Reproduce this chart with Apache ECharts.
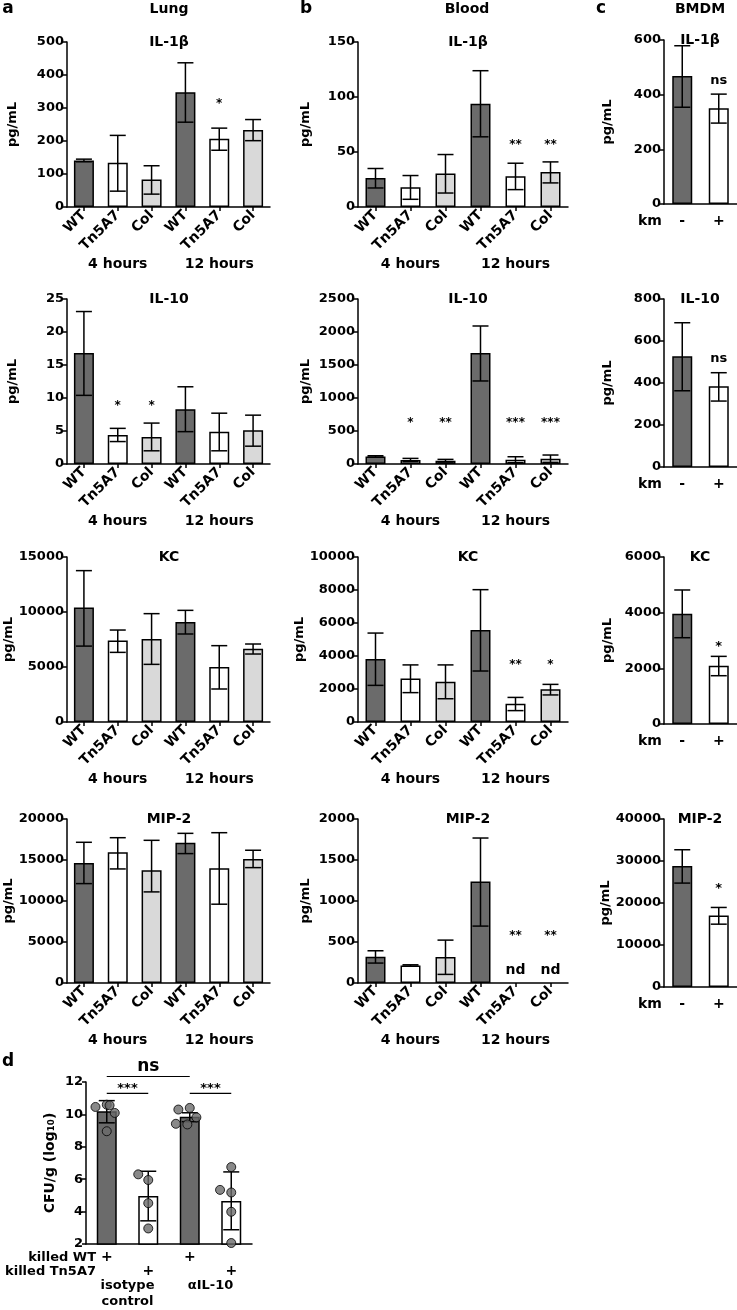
<!DOCTYPE html>
<html>
<head>
<meta charset="utf-8">
<script src="https://cdn.jsdelivr.net/npm/echarts@6.0.0/dist/echarts.min.js"></script>
<style>
  html, body { margin: 0; padding: 0; background: #fff; }
  #chart { width: 737px; height: 1310px; }
</style>
</head>
<body>
<div id="chart"></div>
<script>
// categories
var timeCats = ['WT', 'Tn5A7', 'Col', 'WT', 'Tn5A7', 'Col'];
var timeLabels = ['4 hours', '12 hours'];
var kmCats = ['-', '+'];
var dCats = ['WT isotype', 'Tn5A7 isotype', 'WT anti', 'Tn5A7 anti'];
var dKilledWT = ['+', ' ', '+', ' '];
var dKilledTn = [' ', '+', ' ', '+'];
var dTreatLabels = ['isotype\ncontrol', 'αIL-10'];

// a - Lung
var lungIl1bTicks = [0, 100, 200, 300, 400, 500];
var lungIl1bMean = [141, 134, 83, 348, 207, 233];
var lungIl1bLow = [137, 48, 39, 257, 172, 201];
var lungIl1bHigh = [145, 217, 125, 437, 239, 265];
var lungIl1bSig = ['', '', '', '', '*', ''];
var lungIl1bSigAt = 323;

var lungIl10Ticks = [0, 5, 10, 15, 20, 25];
var lungIl10Mean = [16.8, 4.4, 4.1, 8.3, 4.9, 5.1];
var lungIl10Low = [10.4, 3.4, 2.0, 4.9, 2.0, 2.7];
var lungIl10High = [23.1, 5.4, 6.2, 11.7, 7.7, 7.4];
var lungIl10Sig = ['', '*', '*', '', '', ''];
var lungIl10SigAt = 9.2;

var lungKcTicks = [0, 5000, 10000, 15000];
var lungKcMean = [10400, 7400, 7550, 9100, 5000, 6650];
var lungKcLow = [6900, 6330, 5240, 8000, 3000, 6180];
var lungKcHigh = [13760, 8360, 9850, 10150, 6940, 7090];

var lungMip2Ticks = [0, 5000, 10000, 15000, 20000];
var lungMip2Mean = [14640, 15940, 13750, 17110, 14000, 15130];
var lungMip2Low = [12120, 13910, 11110, 15780, 9610, 14070];
var lungMip2High = [17160, 17720, 17400, 18250, 18330, 16190];

// b - Blood
var bloodIl1bTicks = [0, 50, 100, 150];
var bloodIl1bMean = [26.4, 17.9, 30.4, 93.8, 28, 31.9];
var bloodIl1bLow = [17.3, 7, 12.7, 63.8, 15.8, 21.9];
var bloodIl1bHigh = [35, 28.6, 47.7, 123.9, 39.8, 41];
var bloodIl1bSig = ['', '', '', '', '**', '**'];
var bloodIl1bSigAt = 59;

var bloodIl10Ticks = [0, 500, 1000, 1500, 2000, 2500];
var bloodIl10Mean = [115, 60, 50, 1682, 65, 80];
var bloodIl10Low = [105, 35, 30, 1258, 20, 24];
var bloodIl10High = [125, 85, 70, 2091, 110, 136];
var bloodIl10Sig = ['', '*', '**', '', '***', '***'];
var bloodIl10SigAt = 672;

var bloodKcTicks = [0, 2000, 4000, 6000, 8000, 10000];
var bloodKcMean = [3820, 2640, 2440, 5580, 1110, 1980];
var bloodKcLow = [2220, 1780, 1410, 3090, 690, 1640];
var bloodKcHigh = [5390, 3460, 3460, 8020, 1490, 2280];
var bloodKcSig = ['', '', '', '', '**', '*'];
var bloodKcSigAt = 3670;

var bloodMip2Ticks = [0, 500, 1000, 1500, 2000];
var bloodMip2Mean = [320, 214, 316, 1237, null, null];
var bloodMip2Low = [243, 205, 105, 694, null, null];
var bloodMip2High = [393, 222, 523, 1768, null, null];
var bloodMip2Sig = ['', '', '', '', '**', '**'];
var bloodMip2SigAt = 616;
var bloodMip2Note = ['', '', '', '', 'nd', 'nd'];
var bloodMip2NoteAt = 153;

// c - BMDM
var bmdmIl1bTicks = [0, 200, 400, 600];
var bmdmIl1bMean = [468, 350];
var bmdmIl1bLow = [354, 296];
var bmdmIl1bHigh = [579, 402];
var bmdmIl1bSig = ['', 'ns'];
var bmdmIl1bSigAt = 453;

var bmdmIl10Ticks = [0, 200, 400, 600, 800];
var bmdmIl10Mean = [527, 384];
var bmdmIl10Low = [363, 314];
var bmdmIl10High = [687, 449];
var bmdmIl10Sig = ['', 'ns'];
var bmdmIl10SigAt = 518;

var bmdmKcTicks = [0, 2000, 4000, 6000];
var bmdmKcMean = [3963, 2095];
var bmdmKcLow = [3100, 1735];
var bmdmKcHigh = [4815, 2430];
var bmdmKcSig = ['', '*'];
var bmdmKcSigAt = 2885;

var bmdmMip2Ticks = [0, 10000, 20000, 30000, 40000];
var bmdmMip2Mean = [28790, 17030];
var bmdmMip2Low = [24740, 14960];
var bmdmMip2High = [32680, 18940];
var bmdmMip2Sig = ['', '*'];
var bmdmMip2SigAt = 24190;

// d - CFU
var dTicks = [2, 4, 6, 8, 10, 12];
var dMean = [10.19, 4.97, 9.85, 4.66];
var dLow = [9.48, 3.43, 9.55, 2.88];
var dHigh = [10.85, 6.49, 10.1, 6.45];
var dIsoWtDots = [10.6, 10.46, 10.09, 10.56, 8.96];
var dIsoTnDots = [5.95, 6.3, 4.52, 2.96];
var dAntiWtDots = [10.4, 10.3, 9.82, 9.38, 9.42];
var dAntiTnDots = [6.75, 5.18, 5.34, 3.99, 2.06];
var dBrackets = [[0, 1, '***'], [2, 3, '***'], [0, 2, 'ns']];
var dBracketAt = [11.3, 11.3, 12.34];

// styles
var FONT = 'DejaVu Sans';
var DARK = '#6b6b6b', LIGHT = '#d9d9d9', WHITE = '#ffffff';
var timeColors = [DARK, WHITE, LIGHT, DARK, WHITE, LIGHT];
var kmColors = [DARK, WHITE];
var dColors = [DARK, WHITE, DARK, WHITE];

var grids = [], xAxes = [], yAxes = [], series = [], graphics = [];
var black = { color: '#000', width: 1.5 };

function txt(x, y, s, size, align) {
    graphics.push({
        type: 'text', x: x, y: y, silent: true,
        style: { text: s, fontFamily: FONT, fontWeight: 'bold', fontSize: size, fill: '#000',
                 align: align || 'center', verticalAlign: 'middle' }
    });
}

function renderErr(params, api) {
    var top = api.coord([api.value(0), api.value(2)]);
    var bot = api.coord([api.value(0), api.value(1)]);
    var half = 8;
    var st = { stroke: '#000', lineWidth: 1.5 };
    return { type: 'group', children: [
        { type: 'line', shape: { x1: top[0], y1: top[1], x2: bot[0], y2: bot[1] }, style: st },
        { type: 'line', shape: { x1: top[0] - half, y1: top[1], x2: top[0] + half, y2: top[1] }, style: st },
        { type: 'line', shape: { x1: bot[0] - half, y1: bot[1], x2: bot[0] + half, y2: bot[1] }, style: st }
    ] };
}

function textSeries(xi, yi, labels, at, size) {
    var data = [], shown = [];
    labels.forEach(function (s, i) {
        if (s) { data.push([i, at]); shown.push(s); }
    });
    return {
        type: 'custom', xAxisIndex: xi, yAxisIndex: yi, silent: true, clip: false, z: 5,
        data: data,
        renderItem: function (params, api) {
            var p = api.coord([api.value(0), api.value(1)]);
            var s = shown[params.dataIndex];
            return { type: 'text', x: p[0], y: p[1] + (s.indexOf('*') >= 0 ? size * 0.25 : 0),
                style: { text: s, fontFamily: FONT, fontWeight: 'bold', fontSize: size, fill: '#000',
                         align: 'center', verticalAlign: 'middle' } };
        }
    };
}

function addPanel(p) {
    var gi = grids.length, b = p.box;
    grids.push({ left: b[0], top: b[1], width: b[2], height: b[3] });

    var xi = xAxes.length;
    xAxes.push({
        type: 'category', gridIndex: gi, data: p.cats,
        axisLine: { lineStyle: black },
        axisTick: { show: !!p.rotate, alignWithLabel: true, length: 4, lineStyle: black },
        axisLabel: { interval: 0, rotate: p.rotate ? 45 : 0, margin: p.labelMargin,
                     color: '#000', fontFamily: FONT, fontWeight: 'bold', fontSize: p.labelSize || 14,
                     lineHeight: 14, formatter: p.labelFormatter }
    });
    if (p.under) {
        xAxes.push({
            type: 'category', gridIndex: gi, data: p.under, position: 'bottom', offset: p.underOffset,
            axisLine: { show: false }, axisTick: { show: false },
            axisLabel: { interval: 0, margin: 8, color: '#000', fontFamily: FONT, fontWeight: 'bold',
                         fontSize: p.underSize || 14, lineHeight: 16 }
        });
    }

    var yi = yAxes.length, t = p.ticks;
    yAxes.push({
        type: 'value', gridIndex: gi, min: t[0], max: t[t.length - 1], interval: t[1] - t[0],
        name: p.yName, nameLocation: 'middle', nameGap: p.nameGap,
        nameTextStyle: { color: '#000', fontFamily: FONT, fontWeight: 'bold', fontSize: p.nameSize || 13 },
        axisLine: { show: true, lineStyle: black },
        axisTick: { show: true, length: 4, lineStyle: black },
        splitLine: { show: false },
        axisLabel: { margin: 3, color: '#000', fontFamily: FONT, fontWeight: 'bold', fontSize: 13,
                     formatter: function (v) { return String(v); } }
    });

    series.push({
        type: 'bar', xAxisIndex: xi, yAxisIndex: yi, barWidth: 20, silent: true,
        itemStyle: { borderColor: '#000', borderWidth: 1.5 },
        data: p.mean.map(function (v, i) {
            return v == null ? '-' : { value: v, itemStyle: { color: p.colors[i] } };
        })
    });

    var err = [];
    p.mean.forEach(function (v, i) {
        if (p.low[i] != null) err.push([i, p.low[i], p.high[i]]);
    });
    series.push({
        type: 'custom', xAxisIndex: xi, yAxisIndex: yi, silent: true, z: 3, clip: false,
        encode: { x: 0, y: [1, 2] }, data: err, renderItem: renderErr
    });

    if (p.sig) series.push(textSeries(xi, yi, p.sig, p.sigAt, p.sigSize || 12));
    if (p.note) series.push(textSeries(xi, yi, p.note, p.noteAt, 14));

    if (p.title) txt(p.titleX, b[1], p.title, 14);
    return { xi: xi, yi: yi };
}

// layout: column x-ranges and row y-ranges
var colA = [67, 203], colB = [358, 210], colC = [664, 73];
var rowsAB = [[42, 165], [299, 165], [557, 165], [819, 164]];
var rowsC = [[40, 164], [299, 168], [557, 167], [819, 168]];
var titleX = [169, 468, 700];

var lungRows = [
    ['IL-1β', lungIl1bTicks, lungIl1bMean, lungIl1bLow, lungIl1bHigh, lungIl1bSig, lungIl1bSigAt],
    ['IL-10', lungIl10Ticks, lungIl10Mean, lungIl10Low, lungIl10High, lungIl10Sig, lungIl10SigAt],
    ['KC', lungKcTicks, lungKcMean, lungKcLow, lungKcHigh, null, null],
    ['MIP-2', lungMip2Ticks, lungMip2Mean, lungMip2Low, lungMip2High, null, null]
];
var bloodRows = [
    ['IL-1β', bloodIl1bTicks, bloodIl1bMean, bloodIl1bLow, bloodIl1bHigh, bloodIl1bSig, bloodIl1bSigAt],
    ['IL-10', bloodIl10Ticks, bloodIl10Mean, bloodIl10Low, bloodIl10High, bloodIl10Sig, bloodIl10SigAt],
    ['KC', bloodKcTicks, bloodKcMean, bloodKcLow, bloodKcHigh, bloodKcSig, bloodKcSigAt],
    ['MIP-2', bloodMip2Ticks, bloodMip2Mean, bloodMip2Low, bloodMip2High, bloodMip2Sig, bloodMip2SigAt]
];
var bmdmRows = [
    ['IL-1β', bmdmIl1bTicks, bmdmIl1bMean, bmdmIl1bLow, bmdmIl1bHigh, bmdmIl1bSig, bmdmIl1bSigAt],
    ['IL-10', bmdmIl10Ticks, bmdmIl10Mean, bmdmIl10Low, bmdmIl10High, bmdmIl10Sig, bmdmIl10SigAt],
    ['KC', bmdmKcTicks, bmdmKcMean, bmdmKcLow, bmdmKcHigh, bmdmKcSig, bmdmKcSigAt],
    ['MIP-2', bmdmMip2Ticks, bmdmMip2Mean, bmdmMip2Low, bmdmMip2High, bmdmMip2Sig, bmdmMip2SigAt]
];

[[lungRows, colA, 0, 48], [bloodRows, colB, 1, 46]].forEach(function (c) {
    c[0].forEach(function (r, k) {
        addPanel({
            box: [c[1][0], rowsAB[k][0], c[1][1], rowsAB[k][1]],
            cats: timeCats, colors: timeColors, rotate: true, labelMargin: 6,
            under: timeLabels, underOffset: 41,
            ticks: r[1], mean: r[2], low: r[3], high: r[4], sig: r[5], sigAt: r[6],
            note: (c[2] === 1 && k === 3) ? bloodMip2Note : null, noteAt: bloodMip2NoteAt,
            yName: 'pg/mL', nameGap: c[3], title: r[0], titleX: titleX[c[2]]
        });
    });
});

bmdmRows.forEach(function (r, k) {
    addPanel({
        box: [colC[0], rowsC[k][0], colC[1], rowsC[k][1]],
        cats: kmCats, colors: kmColors, rotate: false, labelMargin: 10, labelSize: 14,
        ticks: r[1], mean: r[2], low: r[3], high: r[4], sig: r[5], sigAt: r[6], sigSize: 13,
        yName: 'pg/mL', nameGap: 50, title: r[0], titleX: titleX[2]
    });
    txt(650, rowsC[k][0] + rowsC[k][1] + 17, 'km', 14);
});

// d
var dAx = addPanel({
    box: [86, 1082, 166, 163],
    cats: dCats, colors: dColors, rotate: false, labelMargin: 6, labelSize: 14,
    labelFormatter: function (v, i) { return dKilledWT[i] + '\n' + dKilledTn[i]; },
    under: dTreatLabels, underOffset: 26, underSize: 13,
    ticks: dTicks, mean: dMean, low: dLow, high: dHigh,
    yName: 'CFU/g (log₁₀)', nameGap: 29, nameSize: 14
});
xAxes[dAx.xi].jitter = 34;
xAxes[dAx.xi].jitterOverlap = false;
xAxes[dAx.xi].jitterMargin = 2.5;

var dots = [];
[dIsoWtDots, dIsoTnDots, dAntiWtDots, dAntiTnDots].forEach(function (arr, i) {
    arr.forEach(function (v) { dots.push([i, v]); });
});
series.push({
    type: 'scatter', xAxisIndex: dAx.xi, yAxisIndex: dAx.yi, symbolSize: 9, z: 6, clip: false, silent: true,
    itemStyle: { color: DARK, borderColor: '#000', borderWidth: 1 },
    data: dots
});

// significance brackets of panel d
var brData = dBrackets.map(function (br, i) { return [br[0], br[1], dBracketAt[i]]; });
series.push({
    type: 'custom', xAxisIndex: dAx.xi, yAxisIndex: dAx.yi, silent: true, clip: false, z: 5,
    encode: { x: [0, 1], y: 2 },
    data: brData,
    renderItem: function (params, api) {
        var a = api.coord([api.value(0), api.value(2)]);
        var b = api.coord([api.value(1), api.value(2)]);
        var s = dBrackets[params.dataIndex][2];
        var ns = s === 'ns';
        return { type: 'group', children: [
            { type: 'line', shape: { x1: a[0], y1: a[1], x2: b[0], y2: b[1] },
              style: { stroke: '#000', lineWidth: 1.2 } },
            { type: 'text', x: (a[0] + b[0]) / 2, y: a[1] - (ns ? 1 : -2),
              style: { text: s, fontFamily: FONT, fontWeight: 'bold', fontSize: ns ? 17 : 13,
                       fill: '#000', align: 'center', verticalAlign: 'bottom' } }
        ] };
    }
});

// panel letters, column headers, row labels
txt(8, 9, 'a', 17); txt(306, 9, 'b', 17); txt(601, 9, 'c', 17); txt(8, 1062, 'd', 17);
txt(169, 9, 'Lung', 14); txt(467, 9, 'Blood', 14); txt(700, 9, 'BMDM', 14);
txt(96, 1258, 'killed WT', 13, 'right');
txt(96, 1272, 'killed Tn5A7', 13, 'right');

var chart = echarts.init(document.getElementById('chart'));
chart.setOption({
    animation: false,
    grid: grids,
    xAxis: xAxes,
    yAxis: yAxes,
    series: series,
    graphic: { elements: graphics }
});
</script>
</body>
</html>
